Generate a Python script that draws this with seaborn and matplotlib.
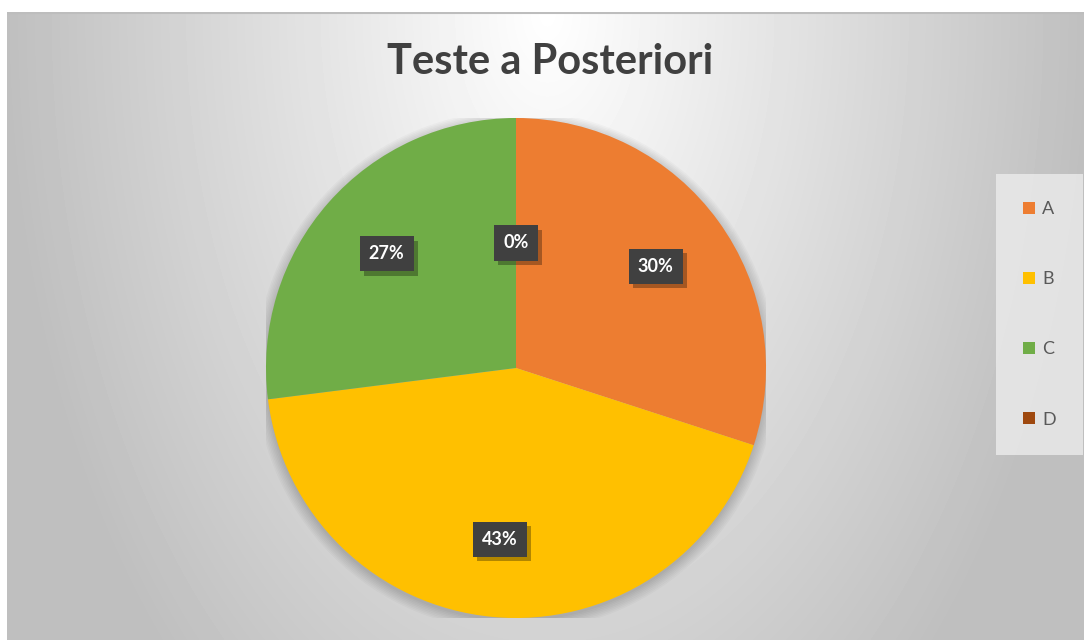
import numpy as np
import matplotlib
matplotlib.use("Agg")
import matplotlib.pyplot as plt
import matplotlib.patheffects as pe
from matplotlib.patches import Patch, Circle
import seaborn as sns

# Data
categories = ["A", "B", "C", "D"]
shares = [30, 43, 27, 0]
colors = ["#ED7D31", "#FFC000", "#70AD47", "#9E480E"]
title = "Teste a Posteriori"

sns.set_theme(style="white")
plt.rcParams["font.family"] = ["Lato", "DejaVu Sans"]

fig = plt.figure(figsize=(10.84, 6.4), dpi=100)
fig.patch.set_facecolor("white")

# chart area background: radial grey gradient, light at the top centre
bg = fig.add_axes([7 / 1084, 0, 1 - 7 / 1084, 628 / 640])
h, w = 628, 1077
yy, xx = np.mgrid[0:h, 0:w]
t = np.sqrt(((xx - 540) / 540.0) ** 2 + ((yy - 0) / 900.0) ** 2)
t = np.clip(t, 0, 1)
grey = (255 - 64 * t) / 255.0
bg.imshow(grey, cmap="gray", vmin=0, vmax=1, aspect="auto", interpolation="bilinear")
bg.axhline(0, color="#bdbdbd", lw=1.5)
bg.set_axis_off()

# pie
ax = fig.add_axes([266 / 1084, 22 / 640, 500 / 1084, 500 / 640])
# soft shadow under the pie
for k in range(8):
    ax.add_patch(Circle((0, -0.012), 1.0 + 0.006 * k, fc="black", ec="none", alpha=0.025, zorder=0))
wedges, texts, autotexts = ax.pie(
    shares,
    colors=colors,
    startangle=90,
    counterclock=False,
    autopct="%1.0f%%",
    pctdistance=0.69,
    wedgeprops=dict(edgecolor="none"),
    textprops=dict(color="white", fontsize=13, fontweight="bold"),
)
ax.set_xlim(-1, 1)
ax.set_ylim(-1, 1)
ax.set_aspect("equal")

for val, txt in zip(shares, autotexts):
    if val == 0:
        # zero slice label sits nearer the centre
        x, y = txt.get_position()
        r = np.hypot(x, y)
        txt.set_position((x / r * 0.5, y / r * 0.5))
    txt.set_bbox(dict(boxstyle="square,pad=0.5", fc="#404040", ec="none"))
    txt.get_bbox_patch().set_path_effects(
        [pe.SimplePatchShadow(offset=(3, -3), shadow_rgbFace="black", alpha=0.3), pe.Normal()]
    )

fig.text(550 / 1084, 0.903, title, ha="center", va="center", fontsize=30, fontweight="bold", color="#404040")

handles = [Patch(facecolor=c, edgecolor="none") for c in colors]
leg = fig.legend(
    handles,
    categories,
    loc="upper right",
    bbox_to_anchor=(1083 / 1084, 466 / 640),
    frameon=True,
    fontsize=13,
    handlelength=0.65,
    handleheight=0.65,
    handletextpad=0.4,
    labelspacing=3.0,
    borderpad=1.5,
    borderaxespad=0,
    fancybox=False,
)
leg.get_frame().set_facecolor("#ececec")
leg.get_frame().set_edgecolor("none")
leg.get_frame().set_alpha(0.8)
for t_ in leg.get_texts():
    t_.set_color("#595959")

fig.savefig("out.png", dpi=100)
